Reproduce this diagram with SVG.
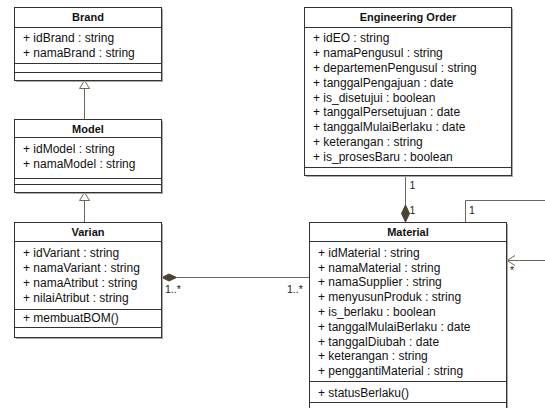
<svg xmlns="http://www.w3.org/2000/svg" width="545" height="408" viewBox="0 0 545 408">
<style>
text{font-family:"Liberation Sans",Arial,sans-serif;font-size:12px;fill:#111}
.t{font-weight:bold;text-anchor:middle;font-size:11px}
.box{fill:#fff;stroke:#333;stroke-width:1}
.sh{fill:#a8a8a8}
.ln{stroke:#333;stroke-width:1}
.c{stroke:#6e685c;stroke-width:1;fill:none}
.tri{fill:#fff;stroke:#6e685c;stroke-width:1}
.dia{fill:#4a4232;stroke:#4a4232;stroke-width:1}
.lbl{font-size:10.5px;fill:#222}
</style>
<rect width="545" height="408" fill="#fff"/>
<g id="connectors">
<line class="c" x1="84.5" y1="88.5" x2="84.5" y2="119.5"/>
<polygon class="tri" points="84.5,80.5 79.5,88.5 89.5,88.5"/>
<line class="c" x1="84.5" y1="200.5" x2="84.5" y2="222.5"/>
<polygon class="tri" points="84.5,192.5 79.5,200.5 89.5,200.5"/>
<line class="c" x1="405.5" y1="175.5" x2="405.5" y2="205"/>
<polygon class="dia" points="405.5,205 409.5,213.5 405.5,222 401.5,213.5"/>
<text class="lbl" x="409.5" y="189">1</text>
<text class="lbl" x="409.5" y="214">1</text>
<polyline class="c" points="465.5,222.5 465.5,200.5 546,200.5"/>
<polyline class="c" points="546,260.5 507,260.5"/>
<polyline class="c" points="515,255.5 507,260.5 515,265.5"/>
<text class="lbl" x="469" y="214">1</text>
<text class="lbl" x="510" y="274">*</text>
<line class="c" x1="176.5" y1="277.5" x2="309.5" y2="277.5"/>
<polygon class="dia" points="162,277.5 169,274 176.5,277.5 169,281"/>
<text class="lbl" x="165" y="293">1..*</text>
<text class="lbl" x="287" y="293">1..*</text>
</g>
<g id="brand">
<rect class="sh" x="16" y="9" width="147" height="73"/>
<rect class="box" x="14.5" y="7.5" width="147" height="73"/>
<line class="ln" x1="14.5" y1="27.5" x2="161.5" y2="27.5"/>
<line class="ln" x1="14.5" y1="63.5" x2="161.5" y2="63.5"/>
<line class="ln" x1="14.5" y1="72.5" x2="161.5" y2="72.5"/>
<text class="t" x="88" y="21">Brand</text>
<text x="23" y="42">+ idBrand : string</text>
<text x="23" y="57">+ namaBrand : string</text>
</g>
<g id="model">
<rect class="sh" x="16" y="121" width="147" height="73"/>
<rect class="box" x="14.5" y="119.5" width="147" height="73"/>
<line class="ln" x1="14.5" y1="137.5" x2="161.5" y2="137.5"/>
<line class="ln" x1="14.5" y1="178.5" x2="161.5" y2="178.5"/>
<line class="ln" x1="14.5" y1="184.5" x2="161.5" y2="184.5"/>
<text class="t" x="88" y="132.5">Model</text>
<text x="23" y="153">+ idModel : string</text>
<text x="23" y="168">+ namaModel : string</text>
</g>
<g id="varian">
<rect class="sh" x="16" y="224" width="147" height="115"/>
<rect class="box" x="14.5" y="222.5" width="147" height="115"/>
<line class="ln" x1="14.5" y1="241.5" x2="161.5" y2="241.5"/>
<line class="ln" x1="14.5" y1="309.5" x2="161.5" y2="309.5"/>
<line class="ln" x1="14.5" y1="327.5" x2="161.5" y2="327.5"/>
<text class="t" x="88" y="235.5">Varian</text>
<text x="23" y="256.5">+ idVariant : string</text>
<text x="23" y="271.5">+ namaVariant : string</text>
<text x="23" y="286.5">+ namaAtribut : string</text>
<text x="23" y="301.5">+ nilaiAtribut : string</text>
<text x="23" y="321.5">+ membuatBOM()</text>
</g>
<g id="engineering-order">
<rect class="sh" x="306" y="9" width="207" height="168"/>
<rect class="box" x="304.5" y="7.5" width="207" height="168"/>
<line class="ln" x1="304.5" y1="27.5" x2="511.5" y2="27.5"/>
<line class="ln" x1="304.5" y1="167.5" x2="511.5" y2="167.5"/>
<text class="t" x="408" y="21">Engineering Order</text>
<text x="313" y="42.3">+ idEO : string</text>
<text x="313" y="57.1">+ namaPengusul : string</text>
<text x="313" y="71.9">+ departemenPengusul : string</text>
<text x="313" y="86.7">+ tanggalPengajuan : date</text>
<text x="313" y="101.5">+ is_disetujui : boolean</text>
<text x="313" y="116.3">+ tanggalPersetujuan : date</text>
<text x="313" y="131.1">+ tanggalMulaiBerlaku : date</text>
<text x="313" y="145.9">+ keterangan : string</text>
<text x="313" y="160.7">+ is_prosesBaru : boolean</text>
</g>
<g id="material">
<rect class="sh" x="311" y="224" width="197" height="200"/>
<rect class="box" x="309.5" y="222.5" width="197" height="200"/>
<line class="ln" x1="309.5" y1="241.5" x2="506.5" y2="241.5"/>
<line class="ln" x1="309.5" y1="381.5" x2="506.5" y2="381.5"/>
<line class="ln" x1="309.5" y1="402.5" x2="506.5" y2="402.5"/>
<text class="t" x="408" y="235.7">Material</text>
<text x="318" y="256.7">+ idMaterial : string</text>
<text x="318" y="271.5">+ namaMaterial : string</text>
<text x="318" y="286.3">+ namaSupplier : string</text>
<text x="318" y="301.1">+ menyusunProduk : string</text>
<text x="318" y="315.9">+ is_berlaku : boolean</text>
<text x="318" y="330.7">+ tanggalMulaiBerlaku : date</text>
<text x="318" y="345.5">+ tanggalDiubah : date</text>
<text x="318" y="360.3">+ keterangan : string</text>
<text x="318" y="375.1">+ penggantiMaterial : string</text>
<text x="318" y="396.7">+ statusBerlaku()</text>
</g>
</svg>
